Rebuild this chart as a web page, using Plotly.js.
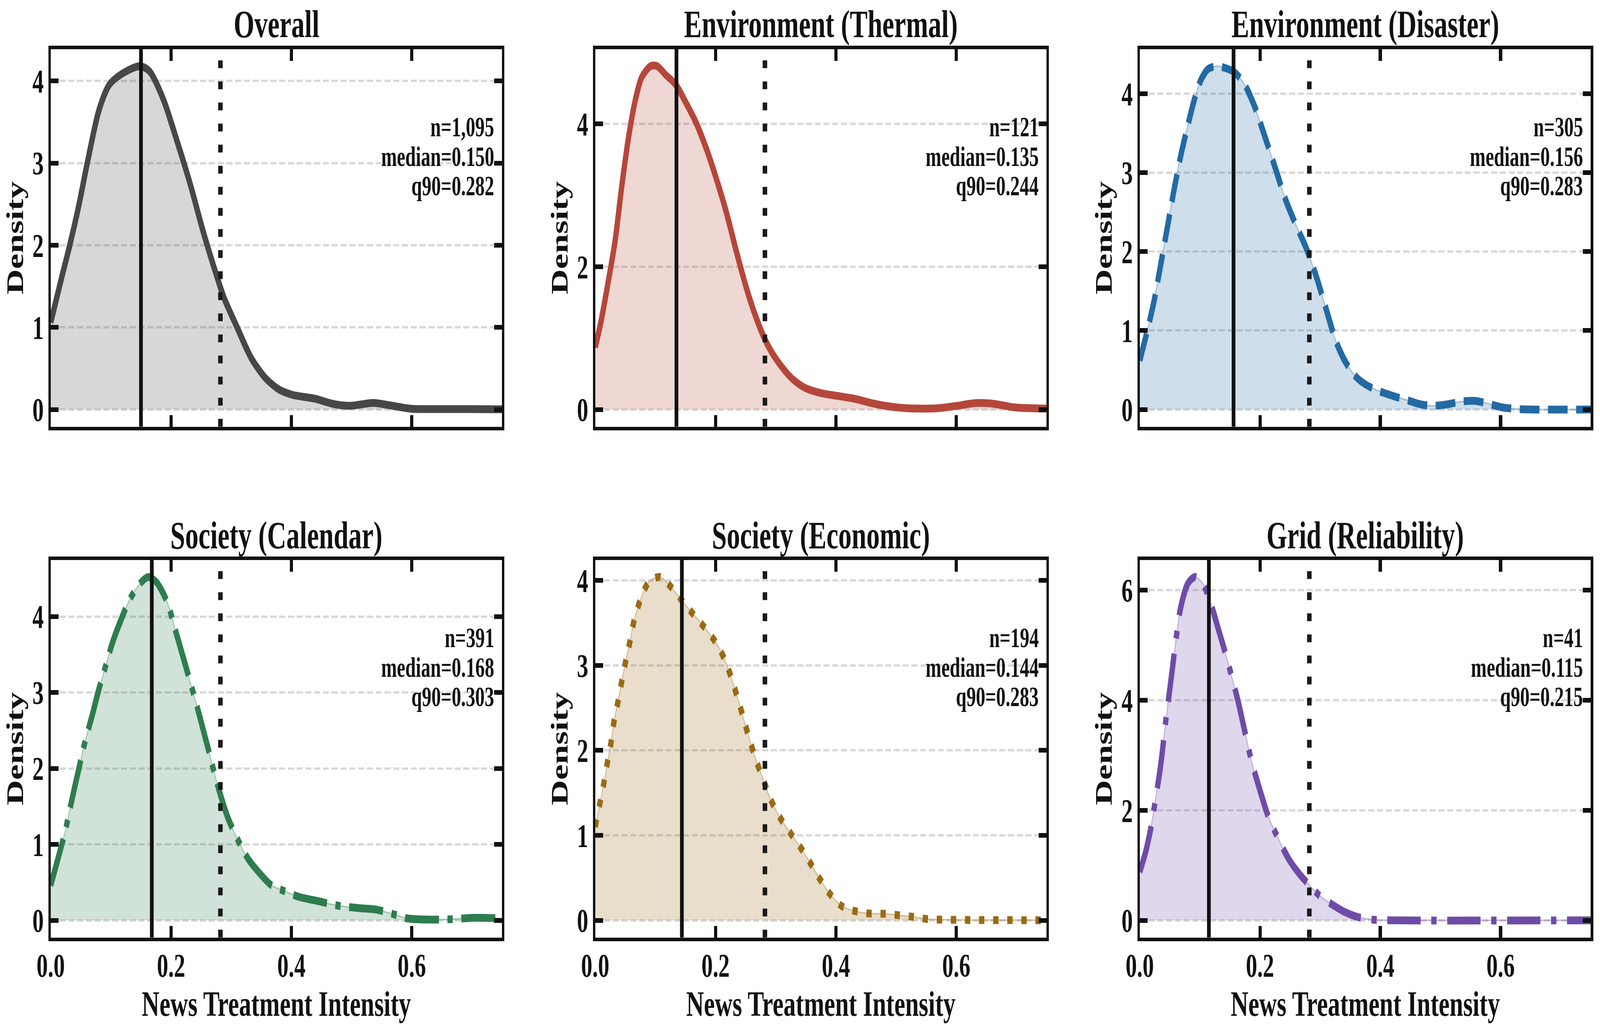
<!DOCTYPE html>
<html><head><meta charset="utf-8">
<script src="https://cdn.plot.ly/plotly-3.0.1.min.js"></script>
<style>html,body{margin:0;padding:0;background:#fff;overflow:hidden}#chart{width:6012px;height:2622px;position:absolute;left:0;top:0}</style>
</head><body><div id="chart"></div>
<script>
// ---------- data ----------
const panelTitles = ['Overall','Environment (Thermal)','Environment (Disaster)','Society (Calendar)','Society (Economic)','Grid (Reliability)'];
const nCounts = ['1,095','121','305','391','194','41'];
const medians = [0.150,0.135,0.156,0.168,0.144,0.115];
const q90s = [0.282,0.244,0.283,0.303,0.283,0.215];
const overallQ90 = 0.282;
const yTickStep = [1,2,1,1,1,2];
const xTickVals = [0,0.2,0.4,0.6];
const xTickText = ['0.0','0.2','0.4','0.6'];
const xAxisLabel = 'News Treatment Intensity';
const yAxisLabel = 'Density';

const overallX = [0,0.018,0.032,0.046,0.063,0.080,0.097,0.119,0.148,0.164,0.187,0.209,0.232,0.254,0.277,0.288,0.311,0.333,0.356,0.378,0.401,0.440,0.468,0.497,0.536,0.564,0.598,0.649,0.700,0.75];
const overallY = [1.06,1.60,2.01,2.46,3.08,3.64,3.95,4.09,4.18,4.12,3.78,3.29,2.74,2.15,1.60,1.36,0.98,0.63,0.39,0.25,0.18,0.13,0.07,0.045,0.08,0.05,0.01,0.005,0.005,0.002];

const thermalX = [0,0.010,0.021,0.033,0.044,0.055,0.066,0.077,0.092,0.103,0.117,0.134,0.150,0.167,0.184,0.201,0.218,0.235,0.252,0.269,0.285,0.302,0.325,0.347,0.375,0.403,0.431,0.459,0.487,0.515,0.543,0.572,0.600,0.633,0.662,0.696,0.75];
const thermalY = [0.87,1.25,1.76,2.36,3.12,3.79,4.31,4.65,4.81,4.81,4.69,4.55,4.31,4.03,3.67,3.24,2.76,2.20,1.68,1.25,0.93,0.69,0.45,0.31,0.23,0.19,0.15,0.09,0.045,0.02,0.012,0.02,0.05,0.09,0.08,0.03,0.012];

const disasterX = [0,0.012,0.024,0.035,0.046,0.057,0.068,0.080,0.091,0.102,0.113,0.127,0.141,0.158,0.175,0.192,0.208,0.225,0.242,0.259,0.276,0.293,0.310,0.326,0.343,0.360,0.377,0.399,0.422,0.444,0.467,0.489,0.511,0.534,0.556,0.579,0.601,0.629,0.75];
const disasterY = [0.62,0.98,1.38,1.84,2.31,2.78,3.21,3.60,3.93,4.18,4.31,4.35,4.33,4.27,4.11,3.82,3.46,3.07,2.67,2.35,2.06,1.70,1.27,0.87,0.59,0.41,0.31,0.23,0.17,0.12,0.065,0.047,0.065,0.10,0.11,0.075,0.03,0.005,0.0];

const calendarX = [0,0.012,0.024,0.035,0.046,0.057,0.069,0.080,0.091,0.102,0.114,0.131,0.148,0.162,0.176,0.193,0.209,0.226,0.243,0.260,0.277,0.294,0.311,0.328,0.345,0.367,0.390,0.412,0.446,0.480,0.514,0.542,0.570,0.592,0.626,0.660,0.705,0.75];
const calendarY = [0.46,0.81,1.17,1.58,1.97,2.35,2.70,3.04,3.34,3.64,3.90,4.22,4.43,4.52,4.45,4.20,3.77,3.30,2.82,2.31,1.79,1.36,1.06,0.81,0.64,0.46,0.38,0.31,0.25,0.19,0.16,0.14,0.08,0.026,0.01,0.013,0.034,0.026];

const economicX = [0,0.007,0.014,0.020,0.026,0.031,0.038,0.044,0.051,0.058,0.065,0.075,0.089,0.108,0.131,0.150,0.168,0.187,0.204,0.218,0.229,0.239,0.249,0.258,0.268,0.280,0.291,0.306,0.323,0.340,0.357,0.372,0.389,0.409,0.431,0.456,0.482,0.504,0.529,0.552,0.577,0.627,0.75];
const economicY = [1.10,1.35,1.60,1.85,2.08,2.33,2.58,2.81,3.06,3.29,3.54,3.77,3.98,4.04,3.88,3.71,3.56,3.40,3.23,3.02,2.79,2.56,2.31,2.09,1.87,1.64,1.43,1.22,1.04,0.87,0.68,0.50,0.32,0.17,0.11,0.08,0.077,0.06,0.04,0.015,0.008,0.004,0.001];

const gridX = [0,0.0095,0.018,0.026,0.035,0.043,0.052,0.060,0.068,0.080,0.092,0.105,0.119,0.130,0.141,0.153,0.164,0.175,0.186,0.200,0.214,0.231,0.248,0.265,0.282,0.298,0.321,0.343,0.366,0.388,0.416,0.75];
const gridY = [0.88,1.23,1.65,2.18,2.83,3.60,4.37,5.08,5.68,6.12,6.24,6.12,5.73,5.32,4.91,4.43,3.96,3.42,2.89,2.36,1.88,1.47,1.11,0.85,0.64,0.46,0.28,0.14,0.05,0.012,0.0,0.0];

// ---------- style ----------
const curvesX = [overallX, thermalX, disasterX, calendarX, economicX, gridX];
const curvesY = [overallY, thermalY, disasterY, calendarY, economicY, gridY];
const colors = ['#474747','#B5473A','#236AA3','#2E7D4E','#9A6A14','#6F4BA8'];
const dashes = ['solid','solid','74px,32px','128px,32px,20px,32px','20px,33px','125px,40px,20px,40px'];
const FONT = 'Liberation Serif, Times New Roman, serif';
const INK = '#111111';
const W = 6012, H = 2622;
const colDom = [[190.5,1886.5],[2236.5,3932.5],[4282.5,5977.5]].map(d => [d[0]/W, d[1]/W]);
const rowDom = [[125.5,1092.5],[1433.5,2400.5]].map(d => [1 - d[1]/H, 1 - d[0]/H]);

function rgba(hex, a) {
  const r = parseInt(hex.slice(1,3),16), g = parseInt(hex.slice(3,5),16), b = parseInt(hex.slice(5,7),16);
  return `rgba(${r},${g},${b},${a})`;
}

const traces = [];
const layout = {
  width: W, height: H,
  margin: {l:0, r:0, t:0, b:0},
  paper_bgcolor: '#ffffff', plot_bgcolor: '#ffffff',
  showlegend: false,
  font: {family: FONT, color: INK},
  annotations: [], shapes: []
};

for (let i = 0; i < 6; i++) {
  const row = Math.floor(i / 3), col = i % 3;
  const sfx = i === 0 ? '' : String(i + 1);
  const xa = 'x' + sfx, ya = 'y' + sfx;
  const c = colors[i];
  const ymax = Math.max(...curvesY[i]);

  traces.push({
    x: curvesX[i], y: curvesY[i], xaxis: xa, yaxis: ya, type: 'scatter', mode: 'lines',
    fill: 'tozeroy', fillcolor: rgba(c, 0.22),
    line: {color: rgba(c, 0.35), width: 4, shape: 'spline', smoothing: 0.8},
    hoverinfo: 'skip'
  });
  traces.push({
    x: curvesX[i], y: curvesY[i], xaxis: xa, yaxis: ya, type: 'scatter', mode: 'lines',
    line: {color: c, width: 20, dash: dashes[i], shape: 'spline', smoothing: 0.8},
    hoverinfo: 'skip'
  });

  const tickfont = {family: FONT, size: 85, color: INK, weight: 'bold'};
  layout['xaxis' + sfx] = {
    domain: colDom[col], anchor: ya, range: [0, 0.75],
    tickmode: 'array', tickvals: xTickVals, ticktext: xTickText,
    showticklabels: row === 1, tickfont: tickfont, ticklabelstandoff: -10,
    ticks: 'inside', ticklen: 30, tickwidth: 12, tickcolor: INK,
    showline: true, linewidth: 9, linecolor: INK, mirror: 'allticks',
    showgrid: false, zeroline: false,
    title: row === 1 ? {text: xAxisLabel, font: {family: FONT, size: 92, color: INK, weight: 'bold'}, standoff: 4} : {text: ''}
  };
  layout['yaxis' + sfx] = {
    domain: rowDom[row], anchor: xa, range: [-0.05 * ymax, 1.05 * ymax],
    tick0: 0, dtick: yTickStep[i], tickfont: tickfont,
    ticks: 'inside', ticklen: 30, tickwidth: 12, tickcolor: INK,
    showline: true, linewidth: 9, linecolor: INK, mirror: 'allticks',
    showgrid: true, gridcolor: '#d9d9d9', gridwidth: 6, griddash: '23px,10px',
    zeroline: false,
    title: {text: yAxisLabel, font: {family: FONT, size: 90, color: INK, weight: 'bold'}, standoff: 9}
  };

  layout.annotations.push({
    text: panelTitles[i], xref: 'paper', yref: 'paper',
    x: (colDom[col][0] + colDom[col][1]) / 2, y: rowDom[row][1],
    xanchor: 'center', yanchor: 'bottom', yshift: 6, showarrow: false,
    font: {family: FONT, size: 100, color: INK, weight: 'bold'}
  });
  const lines = ['n=' + nCounts[i], 'median=' + medians[i].toFixed(3), 'q90=' + q90s[i].toFixed(3)];
  const ys = [0.7513, 0.6727, 0.5951];
  lines.forEach((t, k) => layout.annotations.push({
    text: t, xref: xa + ' domain', yref: ya + ' domain', x: 0.984, y: ys[k],
    xanchor: 'right', yanchor: 'bottom', showarrow: false,
    font: {family: FONT, size: 71, color: INK, weight: 'bold'}
  }));

  layout.shapes.push({type: 'line', xref: xa, yref: ya + ' domain', x0: medians[i], x1: medians[i], y0: 0, y1: 1,
    line: {color: INK, width: 14}, layer: 'above'});
  layout.shapes.push({type: 'line', xref: xa, yref: ya + ' domain', x0: overallQ90, x1: overallQ90, y0: 0, y1: 1,
    line: {color: '#1a1a1a', width: 17, dash: '20px,34px'}, layer: 'above'});
}

// fit the fixed-size figure to the actual window if it differs
const el = document.getElementById('chart');
const vw = window.innerWidth || document.documentElement.clientWidth;
const vh = window.innerHeight || document.documentElement.clientHeight;
if (vw && vh && (Math.abs(vw - W) > 2 || Math.abs(vh - H) > 2)) {
  el.style.transformOrigin = '0 0';
  el.style.transform = `scale(${vw / W}, ${vh / H})`;
}

Plotly.newPlot('chart', traces, layout, {staticPlot: true, displayModeBar: false});
</script>
</body></html>
